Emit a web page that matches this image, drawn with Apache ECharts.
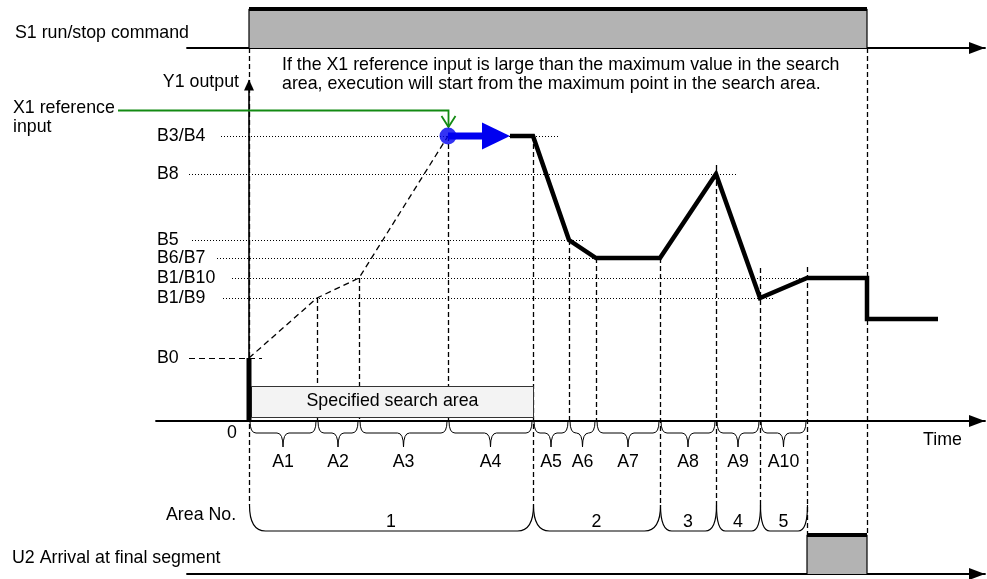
<!DOCTYPE html>
<html>
<head>
<meta charset="utf-8">
<script src="https://cdn.jsdelivr.net/npm/echarts@6/dist/echarts.min.js"></script>
<style>
html,body{margin:0;padding:0;background:#fff;}
#chart{width:987px;height:579px;}
</style>
</head>
<body>
<div id="chart"></div>
<script>
// ---------------- data ----------------
const segmentBounds = [0, 68, 110, 199, 284, 320, 347, 411, 467, 511, 558];
const segmentLabels = ['A1', 'A2', 'A3', 'A4', 'A5', 'A6', 'A7', 'A8', 'A9', 'A10'];
const areaNoBounds = [0, 284, 411, 467, 511, 558];
const areaNoLabels = ['1', '2', '3', '4', '5'];
const levelNames = ['B3/B4', 'B8', 'B5', 'B6/B7', 'B1/B10', 'B1/B9', 'B0'];
const levelValues = [285, 247, 181, 163, 143, 123, 63];
const levelGuideEnd = [311, 488, 334, 411, 558, 524, 13];
const searchCurveT = [0, 68, 110, 199];
const searchCurveY = [63, 123, 143, 285];
const outputT = [261, 284, 320, 347, 411, 467, 511, 558, 618, 618, 689];
const outputY = [285, 285, 181, 163, 163, 247, 123, 143, 143, 102, 102];
const startT = 199;
const arrowTipT = 261;
const x1Reference = 311;
const x1ReferenceStartT = -131;
const dropTops = [-1, 123, 143, 285, 285, 181, 163, 163, 256, 153, 154];
const runStop = [0, 618];
const arrivalFinal = [558, 618];
const searchArea = [0, 284];

// ---------------- layout (pixels) ----------------
const W = 987, H = 579;
const ORIGIN_X = 249, AXIS_Y = 421, RIGHT_X = 985;
const MAIN_LEFT = 156, MAIN_TOP = 81, SIG_LEFT = 187;
const S1_TOP = 9, S1_BOTTOM = 48, U2_TOP = 535, U2_BOTTOM = 574;
const AREA_TOP = 505, AREA_BOTTOM = 531;
const LEVEL_LABEL_X = 157;
const guideStartPx = [221, 189, 192, 217, 232, 223, 189];
const FONT = '17.8px "Liberation Sans", Arial, Helvetica, sans-serif';
const BLUE = '#0000f0', GREEN = '#138a13', GRAY = '#b3b3b3';

const chart = echarts.init(document.getElementById('chart'), null, {renderer: 'canvas'});

const hiddenAxisBits = {axisTick: {show: false}, axisLabel: {show: false}, splitLine: {show: false}};
function xAx(gridIndex, left) {
  return Object.assign({
    gridIndex, type: 'value', min: left - ORIGIN_X, max: RIGHT_X - ORIGIN_X,
    axisLine: {show: true, onZero: true, symbol: ['none', 'triangle'], symbolSize: [12, 16], symbolOffset: [0, -8],
      lineStyle: {color: '#000', width: 1.8}}
  }, hiddenAxisBits);
}

function txt(text, x, y, align) {
  return {type: 'text', x, y, silent: true,
    style: {text, font: FONT, fill: '#000', align: align || 'left', verticalAlign: 'middle'}};
}

const option = {
  animation: false,
  backgroundColor: '#fff',
  grid: [
    {left: MAIN_LEFT, right: W - RIGHT_X, top: MAIN_TOP, bottom: H - AXIS_Y, outerBoundsMode: 'none'},
    {left: SIG_LEFT, right: W - RIGHT_X, top: S1_TOP, bottom: H - S1_BOTTOM, outerBoundsMode: 'none'},
    {left: SIG_LEFT, right: W - RIGHT_X, top: U2_TOP, bottom: H - U2_BOTTOM, outerBoundsMode: 'none'}
  ],
  xAxis: [xAx(0, MAIN_LEFT), xAx(1, SIG_LEFT), xAx(2, SIG_LEFT)],
  yAxis: [
    Object.assign({gridIndex: 0, type: 'value', min: 0, max: AXIS_Y - MAIN_TOP,
      axisLine: {show: true, onZero: true, symbol: ['none', 'triangle'], symbolSize: [10, 11], symbolOffset: [0, -4],
        lineStyle: {color: '#000', width: 1.6}}}, hiddenAxisBits),
    {gridIndex: 1, type: 'value', min: 0, max: 1, show: false},
    {gridIndex: 2, type: 'value', min: 0, max: 1, show: false}
  ],
  graphic: [
    txt('S1 run/stop command', 15, 33),
    txt('Y1 output', 239, 82, 'right'),
    txt('If the X1 reference input is large than the maximum value in the search', 282, 65),
    txt('area, execution will start from the maximum point in the search area.', 282, 84),
    txt('X1 reference', 13, 108),
    txt('input', 13, 127),
    txt('0', 237, 433, 'right'),
    txt('Time', 923, 440),
    txt('Area No.', 166, 515),
    txt('U2 Arrival at final segment', 12, 558)
  ],
  series: [
    // S1 run/stop command
    {type: 'line', xAxisIndex: 1, yAxisIndex: 1, symbol: 'none', silent: true, z: 2,
      data: [[runStop[0], 0], [runStop[0], 1], [runStop[1], 1], [runStop[1], 0]],
      lineStyle: {color: '#000', width: 1.2}, areaStyle: {color: GRAY, opacity: 1}},
    {type: 'line', xAxisIndex: 1, yAxisIndex: 1, symbol: 'none', silent: true, z: 3,
      data: [[runStop[0], 1], [runStop[1], 1]], lineStyle: {color: '#000', width: 4}},
    // U2 arrival at final segment
    {type: 'line', xAxisIndex: 2, yAxisIndex: 2, symbol: 'none', silent: true, z: 2,
      data: [[arrivalFinal[0], 0], [arrivalFinal[0], 1], [arrivalFinal[1], 1], [arrivalFinal[1], 0]],
      lineStyle: {color: '#000', width: 1.2}, areaStyle: {color: GRAY, opacity: 1}},
    {type: 'line', xAxisIndex: 2, yAxisIndex: 2, symbol: 'none', silent: true, z: 3,
      data: [[arrivalFinal[0], 1], [arrivalFinal[1], 1]], lineStyle: {color: '#000', width: 4}},

    // level guides + labels
    {type: 'custom', xAxisIndex: 0, yAxisIndex: 0, clip: false, silent: true, z: 1,
      data: levelValues.map((v, i) => [levelGuideEnd[i], v, i]),
      renderItem(params, api) {
        const i = api.value(2);
        const p = api.coord([api.value(0), api.value(1)]);
        const y = Math.round(p[1]) + 0.5;
        const dashed = levelNames[i] === 'B0';
        return {type: 'group', children: [
          {type: 'line', shape: {x1: guideStartPx[i], y1: y, x2: p[0], y2: y},
            style: {stroke: '#000', lineWidth: dashed ? 1.2 : 1, lineDash: dashed ? [6, 4] : [1, 2]}},
          {type: 'text', style: {text: levelNames[i], x: LEVEL_LABEL_X, y: p[1], font: FONT, fill: '#000',
            align: 'left', verticalAlign: 'middle'}}
        ]};
      }},

    // vertical dashed drop lines
    {type: 'custom', xAxisIndex: 0, yAxisIndex: 0, clip: false, silent: true, z: 2,
      data: segmentBounds.map((t, i) => [t, dropTops[i],
        i === segmentBounds.length - 1 ? 2 : (areaNoBounds.indexOf(t) >= 0 ? 1 : 0)])
        .concat([[runStop[1], -1, 2]]),
      renderItem(params, api) {
        const t = api.value(0), top = api.value(1), kind = api.value(2);
        const base = api.coord([t, 0]);
        const x = Math.round(base[0]) + 0.5;
        const y1 = top < 0 ? S1_BOTTOM : api.coord([t, top])[1];
        const y2 = kind === 0 ? AXIS_Y : (kind === 1 ? AREA_TOP : U2_TOP);
        return {type: 'line', shape: {x1: x, y1: y1, x2: x, y2: y2},
          style: {stroke: '#000', lineWidth: 1.3, lineDash: [5, 3]}};
      }},

    // segment braces A1..A10
    {type: 'custom', xAxisIndex: 0, yAxisIndex: 0, clip: false, silent: true, z: 3,
      data: segmentLabels.map((s, i) => [segmentBounds[i], segmentBounds[i + 1], i]),
      renderItem(params, api) {
        const a = api.coord([api.value(0), 0]), b = api.coord([api.value(1), 0]);
        const x0 = a[0] + 1, x1 = b[0] - 1, xm = (a[0] + b[0]) / 2;
        const y0 = AXIS_Y, ym = AXIS_Y + 12, yt = AXIS_Y + 26, r = 6;
        const d = `M${x0},${y0} Q${x0},${ym} ${x0 + r},${ym} L${xm - r},${ym} Q${xm},${ym} ${xm},${yt} ` +
          `Q${xm},${ym} ${xm + r},${ym} L${x1 - r},${ym} Q${x1},${ym} ${x1},${y0}`;
        return {type: 'group', children: [
          {type: 'path', shape: {pathData: d}, style: {stroke: '#000', fill: 'none', lineWidth: 1}},
          {type: 'text', style: {text: segmentLabels[api.value(2)], x: xm, y: AXIS_Y + 41, font: FONT,
            fill: '#000', align: 'center', verticalAlign: 'middle'}}
        ]};
      }},

    // area number braces 1..5
    {type: 'custom', xAxisIndex: 0, yAxisIndex: 0, clip: false, silent: true, z: 3,
      data: areaNoLabels.map((s, i) => [areaNoBounds[i], areaNoBounds[i + 1], i]),
      renderItem(params, api) {
        const a = api.coord([api.value(0), 0]), b = api.coord([api.value(1), 0]);
        const x0 = a[0] + 0.5, x1 = b[0] + 0.5, xm = (a[0] + b[0]) / 2;
        const r = Math.min(16, (x1 - x0) / 5);
        const d = `M${x0},${AREA_TOP} Q${x0},${AREA_BOTTOM} ${x0 + r},${AREA_BOTTOM} L${x1 - r},${AREA_BOTTOM} ` +
          `Q${x1},${AREA_BOTTOM} ${x1},${AREA_TOP}`;
        return {type: 'group', children: [
          {type: 'path', shape: {pathData: d}, style: {stroke: '#000', fill: 'none', lineWidth: 1.2}},
          {type: 'text', style: {text: areaNoLabels[api.value(2)], x: xm, y: AREA_BOTTOM - 9, font: FONT,
            fill: '#000', align: 'center', verticalAlign: 'middle'}}
        ]};
      }},

    // specified search area box
    {type: 'custom', xAxisIndex: 0, yAxisIndex: 0, clip: false, silent: true, z: 4,
      data: [[searchArea[0], searchArea[1]]],
      renderItem(params, api) {
        const a = api.coord([api.value(0), 0]), b = api.coord([api.value(1), 0]);
        const x0 = a[0] + 2.5, x1 = b[0] + 0.5;
        return {type: 'group', children: [
          {type: 'rect', shape: {x: x0, y: AXIS_Y - 34.5, width: x1 - x0, height: 31},
            style: {fill: '#f3f3f3', stroke: '#333', lineWidth: 1}},
          {type: 'text', style: {text: 'Specified search area', x: (x0 + x1) / 2, y: AXIS_Y - 20, font: FONT,
            fill: '#000', align: 'center', verticalAlign: 'middle'}}
        ]};
      }},

    // search curve (dashed)
    {type: 'line', xAxisIndex: 0, yAxisIndex: 0, symbol: 'none', silent: true, clip: false, z: 5,
      data: searchCurveT.map((t, i) => [t, searchCurveY[i]]),
      lineStyle: {color: '#000', width: 1.3, type: [6, 4]}},
    // B0 bar at start
    {type: 'line', xAxisIndex: 0, yAxisIndex: 0, symbol: 'none', silent: true, clip: false, z: 6,
      data: [[0, 0], [0, searchCurveY[0]]], lineStyle: {color: '#000', width: 5}},
    // Y1 output (thick)
    {type: 'line', xAxisIndex: 0, yAxisIndex: 0, symbol: 'none', silent: true, clip: false, z: 6,
      data: outputT.map((t, i) => [t, outputY[i]]),
      lineStyle: {color: '#000', width: 4.5, join: 'miter', cap: 'butt'}},
    // blue start arrow shaft
    {type: 'line', xAxisIndex: 0, yAxisIndex: 0, symbol: 'none', silent: true, clip: false, z: 7,
      data: [[startT, levelValues[0]], [arrowTipT - 20, levelValues[0]]],
      lineStyle: {color: BLUE, width: 7}},
    // blue arrow head + green X1 reference line
    {type: 'custom', xAxisIndex: 0, yAxisIndex: 0, clip: false, silent: true, z: 8,
      data: [[arrowTipT, levelValues[0], x1ReferenceStartT, x1Reference, startT]],
      renderItem(params, api) {
        const tip = api.coord([api.value(0), api.value(1)]);
        const g0 = api.coord([api.value(2), api.value(3)]);
        const g1 = api.coord([api.value(4), api.value(3)]);
        const dot = api.coord([api.value(4), api.value(1)]);
        const gx = Math.round(g1[0]) + 0.5, gy = Math.round(g1[1]) + 0.5;
        const ty = dot[1] - 9;
        return {type: 'group', children: [
          {type: 'polygon', shape: {points: [[tip[0], tip[1]], [tip[0] - 28, tip[1] - 13.5], [tip[0] - 28, tip[1] + 13.5]]},
            style: {fill: BLUE}},
          {type: 'polyline', shape: {points: [[g0[0], gy], [gx, gy], [gx, ty]]},
            style: {stroke: GREEN, lineWidth: 1.8, fill: 'none'}},
          {type: 'polyline', shape: {points: [[gx - 7, ty - 11], [gx, ty], [gx + 7, ty - 11]]},
            style: {stroke: GREEN, lineWidth: 1.8, fill: 'none'}}
        ]};
      }},
    // blue start dot
    {type: 'scatter', xAxisIndex: 0, yAxisIndex: 0, silent: true, z: 9, symbol: 'circle', symbolSize: 17,
      data: [[startT, levelValues[0]]], itemStyle: {color: BLUE}}
  ]
};

chart.setOption(option);
</script>
</body>
</html>
